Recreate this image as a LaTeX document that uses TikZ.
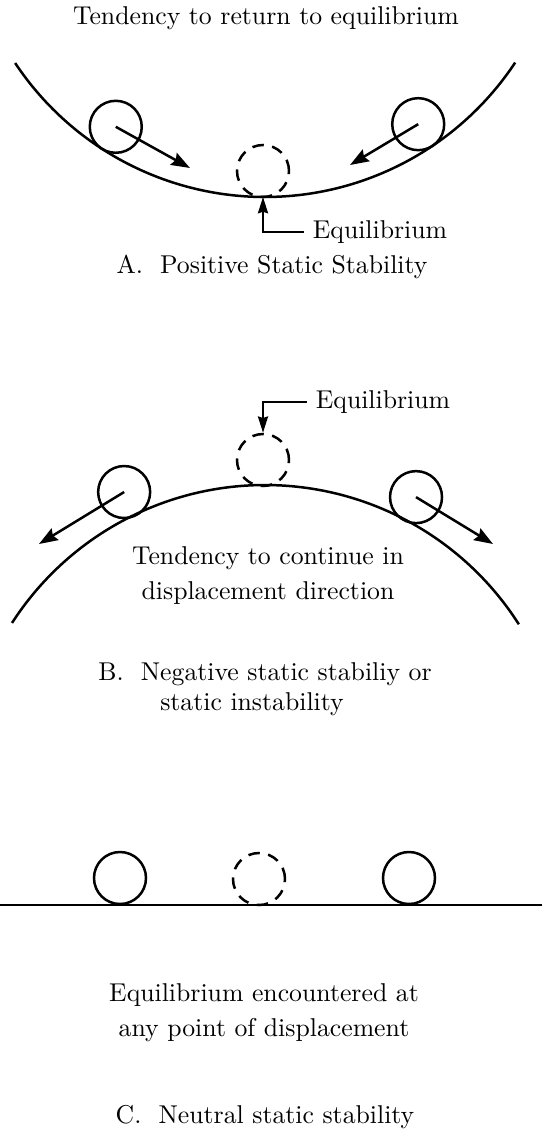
\documentclass[tikz,border=0pt]{standalone}
\usepackage{tikz}
\usetikzlibrary{arrows.meta}

\tikzset{
  track/.style={line width=1pt},
  ball/.style={circle,draw,line width=1pt,minimum size=20.8pt,inner sep=0pt},
  ghost/.style={ball,dash pattern=on 4.6pt off 3.4pt},
  push/.style={line width=1pt,-{Stealth[length=7.5pt,width=5.4pt,inset=1pt]}},
  lead/.style={line width=0.9pt,-{Stealth[length=6.5pt,width=4pt,inset=0.6pt]}},
  every node/.style={font=\fontsize{10.3pt}{13pt}\selectfont},
}

\begin{document}
\begin{tikzpicture}[x=0.4pt,y=0.4pt]
  \useasboundingbox (0,0) rectangle (542,-1141);

  % A: bowl
  \node (titleA) at (266,-18) {Tendency to return to equilibrium};
  \draw[track] (265,103) ++(213.6:300) arc[start angle=213.6,end angle=326.5,radius=300];
  \coordinate (lowA) at (263,-197);
  \node[ball] (ballAl) at ([shift={(237:274)}]265,103) {};
  \node[ball] (ballAr) at ([shift={(304:274)}]265,103) {};
  \node[ghost] (ghostA) at (263,-171) {};
  \coordinate (tipAl) at (190,-168);
  \coordinate (tipAr) at (350,-165);
  \draw[push] (ballAl.center) -- (tipAl);
  \draw[push] (ballAr.center) -- (tipAr);
  \node (eqA) at (380,-232) {Equilibrium};
  \draw[lead] (eqA.west) -| (lowA);
  \node (capA) at (272,-267) {A.\ \ Positive Static Stability};

  % B: dome
  \draw[track] (265,-786) ++(147.2:301) arc[start angle=147.2,end angle=32.5,radius=301];
  \node[ball] (ballBl) at ([shift={(115.6:326)}]265,-786) {};
  \node[ball] (ballBr) at ([shift={(62.4:326)}]265,-786) {};
  \node[ghost] (ghostB) at (263,-460) {};
  \coordinate (tipBl) at (39,-544);
  \coordinate (tipBr) at (493,-544);
  \draw[push] (ballBl.center) -- (tipBl);
  \draw[push] (ballBr.center) -- (tipBr);
  \node (eqB) at (383,-402) {Equilibrium};
  \draw[lead] (eqB.west) -| (ghostB.north);
  \node[align=center] (txtB) at (268,-576) {Tendency to continue in\\[1pt]displacement direction};
  \node (capB) at (265,-674) {B.\ \ Negative static stabiliy or};
  \node (capB2) at (252,-704) {static instability};

  % C: flat
  \draw[track] (0,-905) -- (542,-905);
  \node[ball] (ballCl) at (120,-878) {};
  \node[ghost] (ghostC) at (259,-879) {};
  \node[ball] (ballCr) at (409,-878) {};
  \node[align=center] (txtC) at (264,-1013) {Equilibrium encountered at\\[1pt]any point of displacement};
  \node (capC) at (265,-1117) {C.\ \ Neutral static stability};
\end{tikzpicture}
\end{document}
